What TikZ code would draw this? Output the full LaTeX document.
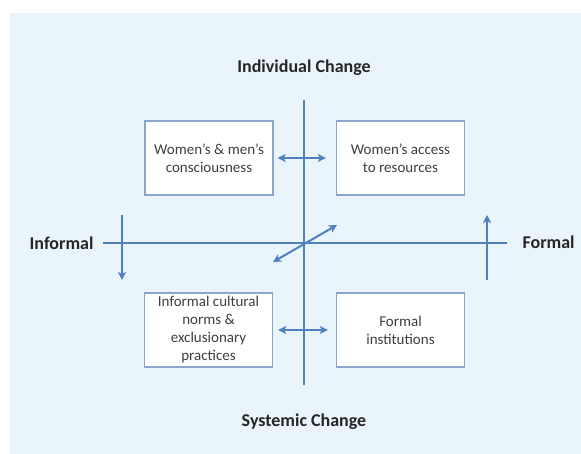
\documentclass[tikz,border=0pt]{standalone}
\usepackage{fontspec}
\setmainfont{Carlito}
\usepackage{xcolor}
\usetikzlibrary{arrows.meta}
\usetikzlibrary{positioning}

\definecolor{axisblue}{HTML}{4F81BD}
\definecolor{boxline}{HTML}{8AA6CC}
\definecolor{panel}{HTML}{EAF4FB}
\definecolor{boxtext}{HTML}{3F3F3F}

\begin{document}
\begin{tikzpicture}[x=1pt, y=-1pt,
		box/.style={draw=boxline, line width=1.4pt, fill=white, minimum width=128pt, minimum height=74pt, align=center, text=boxtext, font=\fontsize{15}{18}\selectfont},
		pole/.style={font=\fontsize{18}{22}\selectfont\bfseries, text=black!85},
		axis/.style={draw=axisblue, line width=1.7pt},
		arr/.style={axis, line width=2pt, -{Stealth[length=8pt, width=8pt, inset=2pt]}},
		dbl/.style={axis, line width=2pt, {Stealth[length=8pt, width=8pt, inset=2pt]}-{Stealth[length=8pt, width=8pt, inset=2pt]}}]
	
	% page and panel
	\fill[white] (0,0) rectangle (581,454);
	\fill[panel] (10,13) rectangle (581,454);
	
	% ends of the two axes
	\coordinate (top) at (304,100);
	\coordinate (bottom) at (304,385);
	\coordinate (left) at (103,243);
	\coordinate (right) at (507,243);
	
	\draw[axis] (top) -- (bottom);
	\draw[axis] (left) -- (right);
	
	% poles
	\node[pole] (ind) at (304,68) {Individual Change};
	\node[pole] (sys) at (304,422) {Systemic Change};
	\node[pole, anchor=east] (inf) at (97,243) {Informal};
	\node[pole, anchor=west] (frm) at (519,242) {Formal};
	
	% quadrants
	\node[box] (cons) at (209,158) {Women's \& men's\\consciousness};
	\node[box] (res) at (400.5,158) {Women's access\\to resources};
	\node[box] (norms) at (208.5,330) {Informal cultural\\norms \&\\exclusionary\\practices};
	\node[box] (inst) at (400.5,330) {Formal\\institutions};
	
	%  between quadrants
	\draw[dbl] ([xshift=4pt]cons.east) -- ([xshift=-10pt]res.west);
	\draw[dbl] ([xshift=5pt]norms.east) -- ([xshift=-8pt]inst.west);
	
	\coordinate (dlow) at (273,262);
	\coordinate (dup) at (337,225);
	\draw[dbl] (dlow) -- (dup);
	
	%  up and down along the informal-formal axis
	\coordinate (ltop) at (122,215);
	\coordinate (lbot) at (122,280);
	\draw[arr] (ltop) -- (lbot);
	
	\coordinate (rbot) at (487,280);
	\coordinate (rtop) at (487,215);
	\draw[arr] (rbot) -- (rtop);
	
\end{tikzpicture}
\end{document}
